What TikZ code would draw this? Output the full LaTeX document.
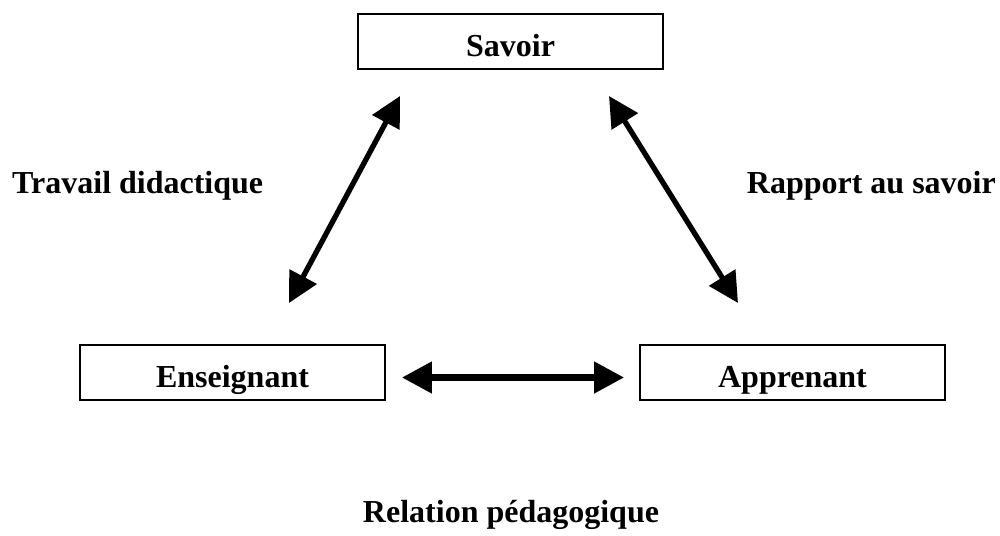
\documentclass[tikz,border=0pt]{standalone}
\usepackage{fontspec}
\setmainfont{Liberation Serif}
\usetikzlibrary{arrows.meta}

\tikzset{
  pole/.style={draw=black, line width=1.6pt, minimum width=305pt, minimum height=55pt,
    inner sep=0pt, text height=30pt, text depth=0pt,
    font=\fontsize{32}{38}\selectfont\bfseries},
  caption/.style={inner sep=0pt, font=\fontsize{32}{38}\selectfont\bfseries},
  link/.style={line width=5.3pt, {Triangle[length=30pt,width=30pt]}-{Triangle[length=30pt,width=30pt]}},
  hlink/.style={line width=7pt, {Triangle[length=30pt,width=30pt]}-{Triangle[length=30pt,width=30pt]}}
}

\begin{document}
\begin{tikzpicture}[x=1pt, y=-1pt]
  \useasboundingbox (0,0) rectangle (1000,535);

  % the three poles of the triangle
  \node[pole] (sav) at (510.5,41.5) {Savoir};
  \node[pole] (ens) at (232.5,372.5) {Enseignant};
  \node[pole] (app) at (792.5,372.5) {Apprenant};

  % free ends of the two slanted arrows
  \coordinate (tdTop) at (400,96);
  \coordinate (tdBot) at (289,303);
  \coordinate (rsTop) at (609,96);
  \coordinate (rsBot) at (738,303);

  \draw[link] (tdTop) -- (tdBot);
  \draw[link] (rsTop) -- (rsBot);
  \draw[hlink, shorten <=16pt, shorten >=15pt]
    ([yshift=-5pt]ens.east) -- ([yshift=-5pt]app.west);

  % relation labels
  \node[caption, anchor=base west] (lblTd) at (12,193) {Travail didactique};
  \node[caption, anchor=base east] (lblRs) at (996,193) {Rapport au savoir};
  \node[caption, anchor=base] (lblRp) at (511,522) {Relation pédagogique};
\end{tikzpicture}
\end{document}
